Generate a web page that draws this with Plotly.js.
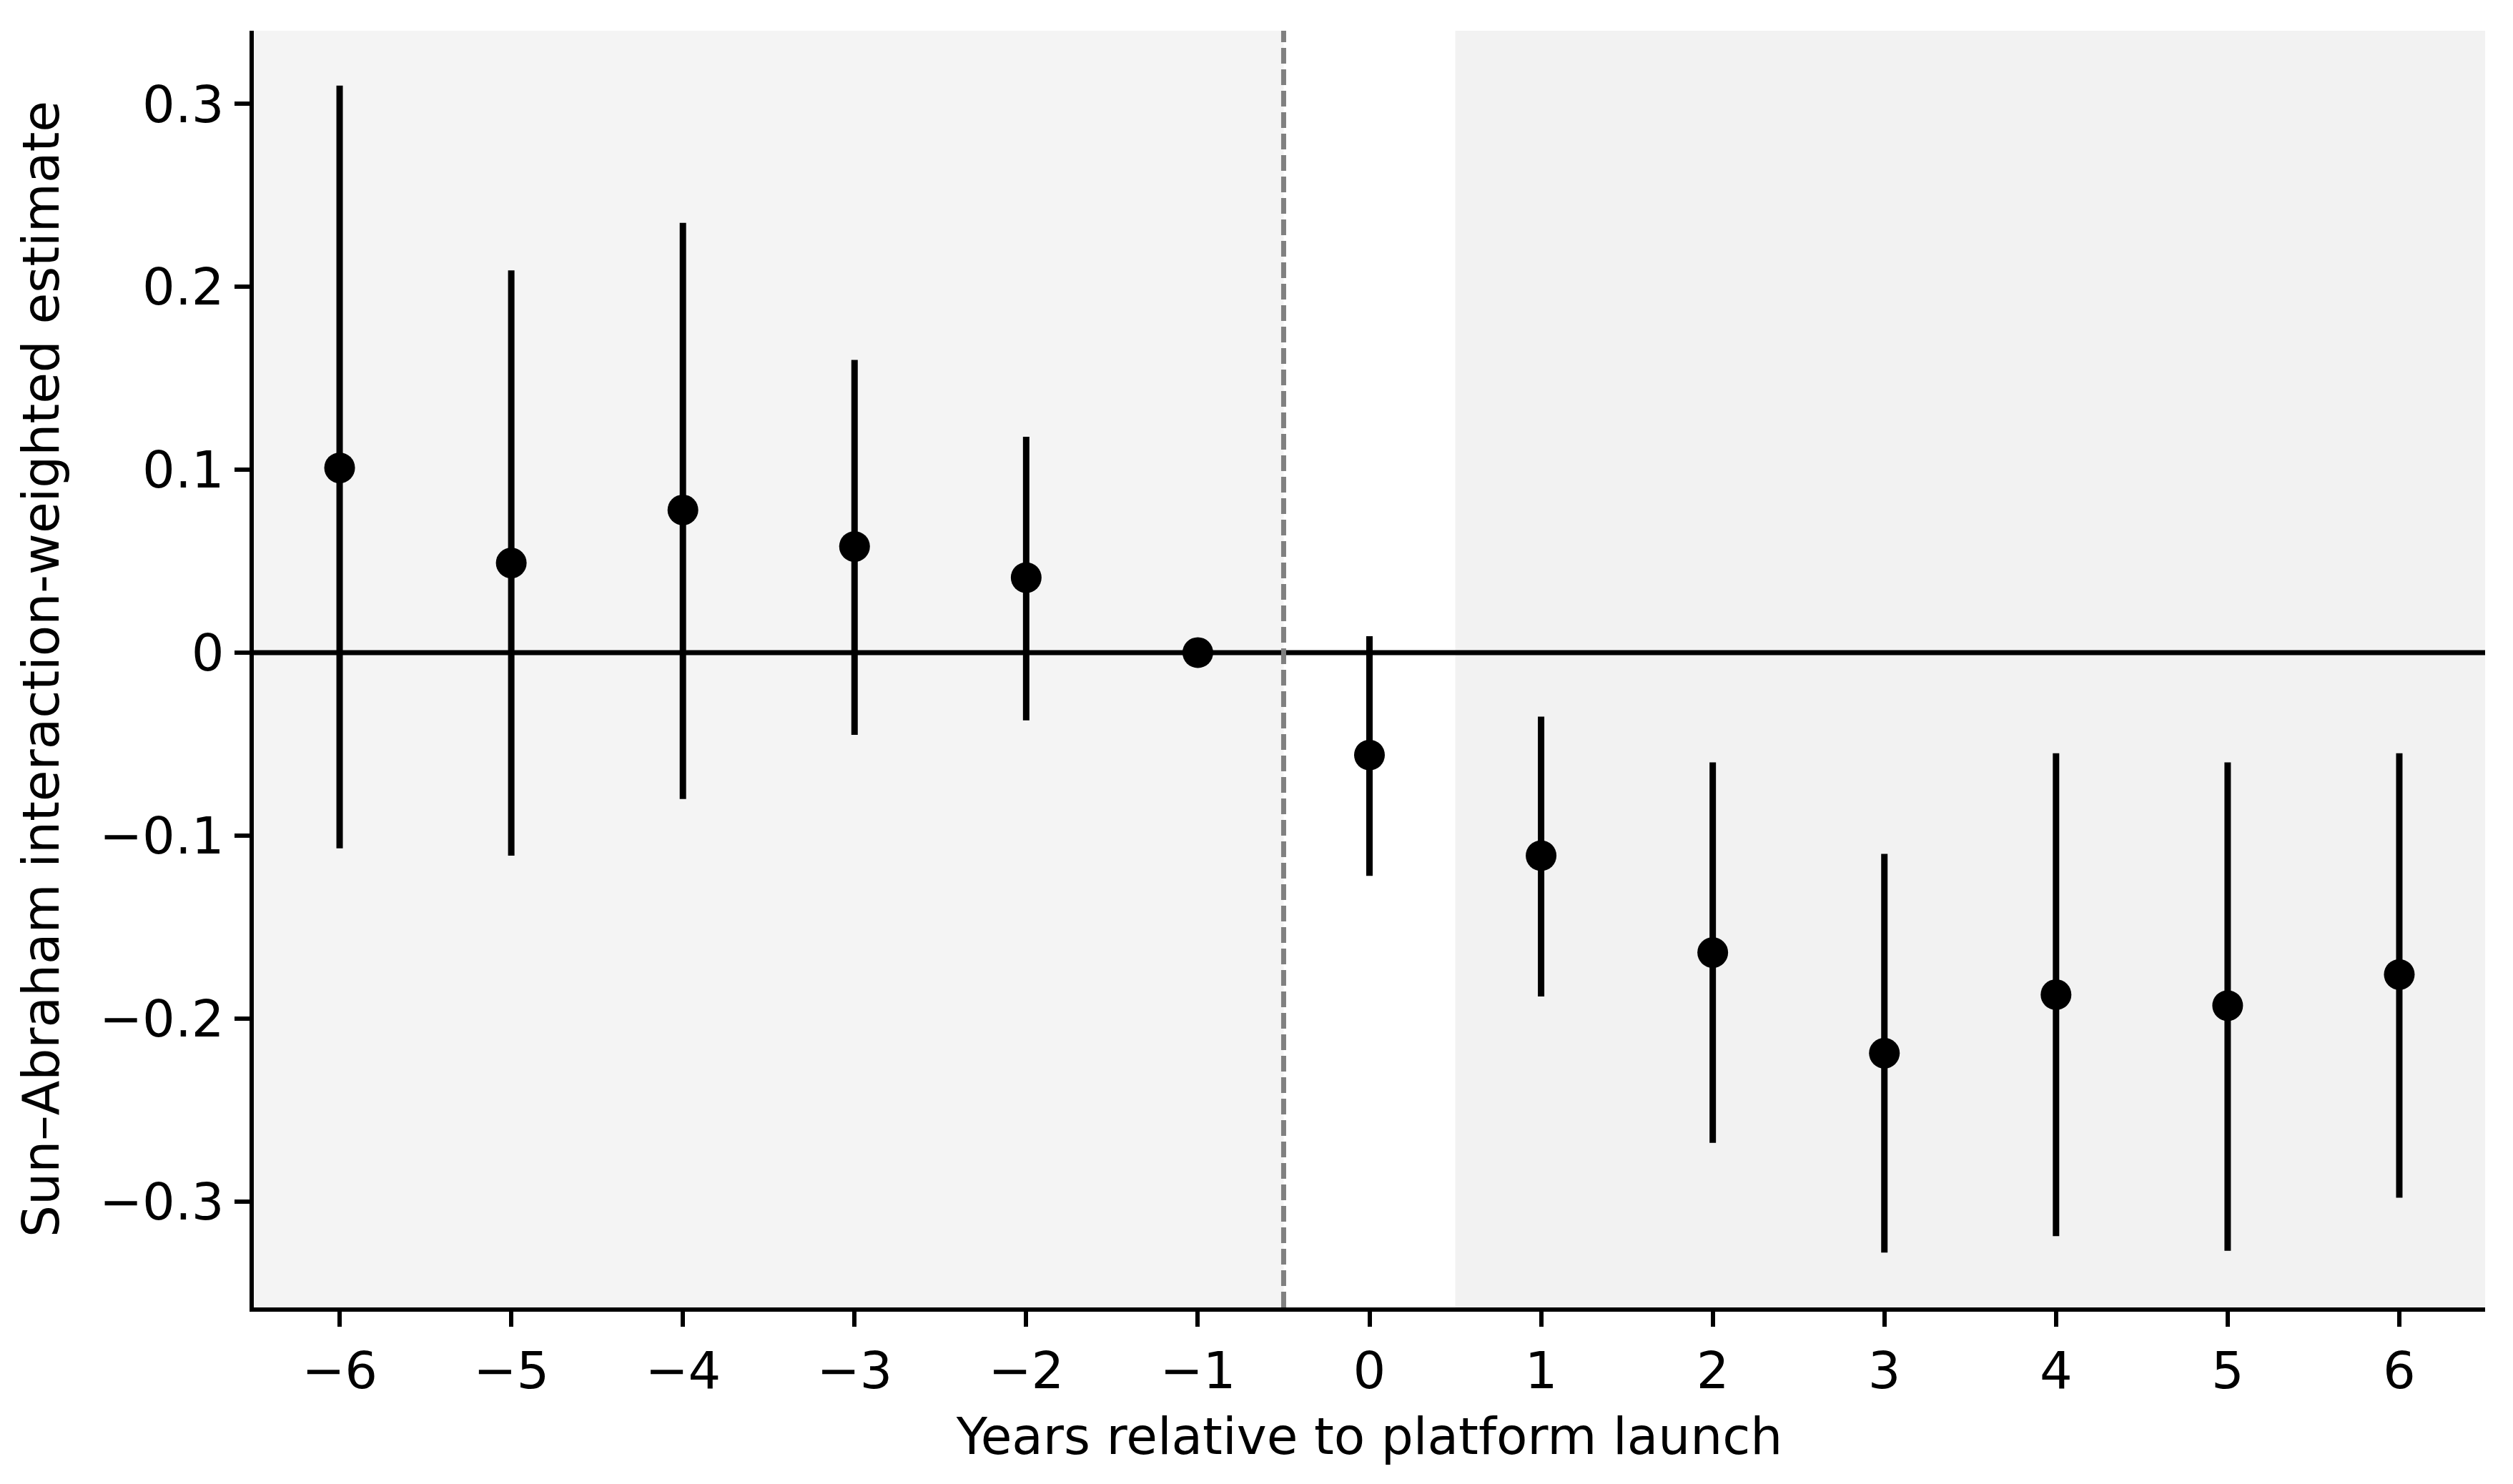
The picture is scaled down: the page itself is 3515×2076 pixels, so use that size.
<!DOCTYPE html>
<html>
<head>
<meta charset="utf-8">
<script src="https://cdn.plot.ly/plotly-3.0.1.min.js"></script>
<style>
html, body { margin: 0; padding: 0; background: #ffffff; }
#chart { width: 3515px; height: 2076px; }
</style>
</head>
<body>
<div id="chart"></div>
<script>
// Event-time (years relative to platform launch)
var years = [-6, -5, -4, -3, -2, -1, 0, 1, 2, 3, 4, 5, 6];
// Point estimates
var estimate = [0.101, 0.049, 0.078, 0.058, 0.041, 0.0, -0.056, -0.111, -0.164, -0.219, -0.187, -0.193, -0.176];
// Confidence interval bounds
var ciUpper = [0.310, 0.209, 0.235, 0.160, 0.118, 0.0, 0.009, -0.035, -0.060, -0.110, -0.055, -0.060, -0.055];
var ciLower = [-0.107, -0.111, -0.080, -0.045, -0.037, 0.0, -0.122, -0.188, -0.268, -0.328, -0.319, -0.327, -0.298];
// Tick labels
var yTickVals = [-0.3, -0.2, -0.1, 0, 0.1, 0.2, 0.3];
var yTickText = ['\u22120.3', '\u22120.2', '\u22120.1', '0', '0.1', '0.2', '0.3'];
var xTickText = years.map(function (v) { return v < 0 ? '\u2212' + Math.abs(v) : String(v); });

var errPlus = estimate.map(function (v, i) { return ciUpper[i] - v; });
var errMinus = estimate.map(function (v, i) { return v - ciLower[i]; });

var trace = {
  type: 'scatter',
  mode: 'markers',
  x: years,
  y: estimate,
  marker: { color: '#000000', size: 43 },
  error_y: {
    type: 'data',
    symmetric: false,
    array: errPlus,
    arrayminus: errMinus,
    color: '#000000',
    thickness: 9,
    width: 0
  },
  hoverinfo: 'x+y',
  showlegend: false
};

var font = { family: 'DejaVu Sans, sans-serif', size: 72, color: '#000000' };
var titleFont = { family: 'DejaVu Sans, sans-serif', size: 71, color: '#000000' };

var layout = {
  width: 3515,
  height: 2076,
  paper_bgcolor: '#ffffff',
  plot_bgcolor: '#ffffff',
  font: font,
  showlegend: false,
  margin: { l: 355, r: 39, t: 43, b: 247, pad: 0 },
  xaxis: {
    range: [-6.5, 6.5],
    tickvals: years,
    ticktext: xTickText,
    ticks: 'outside',
    ticklen: 21,
    tickwidth: 6,
    tickcolor: '#000000',
    showline: true,
    linecolor: '#000000',
    linewidth: 6,
    showgrid: false,
    zeroline: false,
    tickfont: font,
    title: { text: 'Years relative to platform launch', font: titleFont, standoff: 28 },
    automargin: false
  },
  yaxis: {
    range: [-0.358, 0.340],
    tickvals: yTickVals,
    ticktext: yTickText,
    ticks: 'outside',
    ticklen: 21,
    tickwidth: 6,
    tickcolor: '#000000',
    showline: true,
    linecolor: '#000000',
    linewidth: 6,
    showgrid: false,
    zeroline: false,
    tickfont: font,
    title: { text: 'Sun\u2013Abraham interaction-weighted estimate', font: titleFont, standoff: 35 },
    automargin: false
  },
  shapes: [
    { type: 'rect', xref: 'x', yref: 'paper', x0: -6.5, x1: -0.5, y0: 0, y1: 1,
      fillcolor: '#f4f4f4', line: { width: 0 }, layer: 'below' },
    { type: 'rect', xref: 'x', yref: 'paper', x0: 0.5, x1: 6.5, y0: 0, y1: 1,
      fillcolor: '#f2f2f2', line: { width: 0 }, layer: 'below' },
    { type: 'line', xref: 'paper', yref: 'y', x0: 0, x1: 1, y0: 0, y1: 0,
      line: { color: '#000000', width: 7 }, layer: 'below' },
    { type: 'line', xref: 'x', yref: 'paper', x0: -0.5, x1: -0.5, y0: 0, y1: 1,
      line: { color: '#808080', width: 7, dash: '22px,8px' }, layer: 'below' }
  ]
};

Plotly.newPlot('chart', [trace], layout, { displayModeBar: false, staticPlot: true });
</script>
</body>
</html>
